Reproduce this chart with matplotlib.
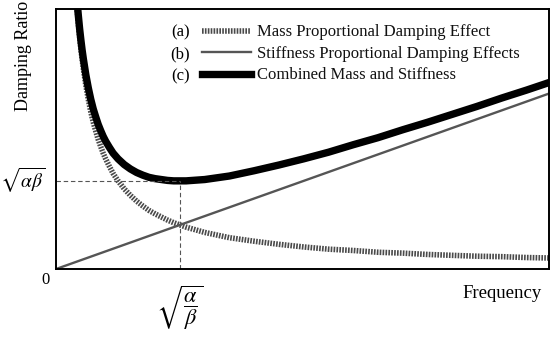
import matplotlib
matplotlib.use("Agg")
import matplotlib.pyplot as plt

plt.rcParams['font.family'] = ['Liberation Serif', 'DejaVu Serif']
plt.rcParams['mathtext.fontset'] = 'stix'

# frequency (crossover frequency = 1) and damping ratios
freq = [0.16, 0.17, 0.18, 0.19, 0.2, 0.21, 0.22, 0.24, 0.26, 0.28,
        0.30, 0.32, 0.34, 0.36, 0.38, 0.40, 0.43, 0.46, 0.5, 0.55,
        0.6, 0.65, 0.7, 0.75, 0.8, 0.85, 0.9, 0.95, 1.0, 1.05,
        1.1, 1.2, 1.3, 1.4, 1.5, 1.6, 1.8, 2.0, 2.2, 2.4,
        2.6, 2.8, 3.0, 3.2, 3.4, 3.6, 3.8, 3.98]
mass_damping = [6.25, 5.88, 5.56, 5.26, 5.0, 4.76, 4.55, 4.17, 3.85, 3.57,
                3.33, 3.13, 2.94, 2.78, 2.63, 2.5, 2.33, 2.17, 2.0, 1.82,
                1.67, 1.54, 1.43, 1.33, 1.25, 1.18, 1.11, 1.05, 1.0, 0.95,
                0.91, 0.83, 0.77, 0.71, 0.67, 0.63, 0.56, 0.5, 0.45, 0.42,
                0.38, 0.36, 0.33, 0.31, 0.29, 0.28, 0.26, 0.25]
combined_damping = [6.41, 6.05, 5.74, 5.45, 5.2, 4.97, 4.77, 4.41, 4.11, 3.85,
                    3.63, 3.45, 3.28, 3.14, 3.01, 2.9, 2.76, 2.63, 2.5, 2.37,
                    2.27, 2.19, 2.13, 2.08, 2.05, 2.03, 2.01, 2.0, 2.0, 2.0,
                    2.01, 2.03, 2.07, 2.11, 2.17, 2.23, 2.36, 2.5, 2.65, 2.82,
                    2.98, 3.16, 3.33, 3.51, 3.69, 3.88, 4.06, 4.23]
stiff_freq = [0.0, 3.98]
stiff_damping = [0.0, 3.98]

omega0 = 1.0          # sqrt(alpha/beta)
zeta_min = 2.0        # sqrt(alpha*beta)

labels = ["Mass Proportional Damping Effect",
          "Stiffness Proportional Damping Effects",
          "Combined Mass and Stiffness"]
tags = ["(a)", "(b)", "(c)"]

fig = plt.figure(figsize=(5.5, 3.39), dpi=100)
ax = fig.add_axes([0.102, 0.2065, 0.896, 0.767])

l1, = ax.plot(freq, mass_damping, color='#4a4a4a', lw=4.0,
              linestyle=(0, (0.3, 0.22)), solid_capstyle='butt')
l2, = ax.plot(stiff_freq, stiff_damping, color='#555555', lw=1.7)
l3, = ax.plot(freq, combined_damping, color='black', lw=5.3,
              solid_joinstyle='round')

ax.plot([0, omega0], [zeta_min, zeta_min], color='#555555', lw=0.8, ls=(0, (4, 2.5)))
ax.plot([omega0, omega0], [0, zeta_min], color='#555555', lw=0.8, ls=(0, (4, 2.5)))

ax.set_xlim(0, 3.98)
ax.set_ylim(0, 5.9)
ax.set_xticks([])
ax.set_yticks([])
for s in ax.spines.values():
    s.set_linewidth(1.4)
    s.set_color('black')

leg = ax.legend([l1, l2, l3], labels, loc='upper left',
                bbox_to_anchor=(0.282, 0.966), frameon=False, fontsize=12,
                handlelength=2.95, handletextpad=0.35, labelspacing=0.33,
                borderaxespad=0.0)
for t in leg.get_texts():
    t.set_color('#111111')
for i, tag in enumerate(tags):
    ax.text(0.252, 0.91 - i * 0.085, tag, transform=ax.transAxes, fontsize=12,
            ha='center', va='center')

fig.text(0.043, 0.835, "Damping Ratio", rotation=90, fontsize=13,
         ha='center', va='center')
fig.text(0.082, 0.175, "0", fontsize=12, ha='center', va='center')
fig.text(0.985, 0.133, "Frequency", fontsize=13.5, ha='right', va='center')
ax.text(-0.022, zeta_min, r'$\sqrt{\alpha\beta}$', transform=ax.get_yaxis_transform(),
        fontsize=14, ha='right', va='center')
ax.text(omega0, -0.055, r'$\sqrt{\dfrac{\alpha}{\beta}}$', transform=ax.get_xaxis_transform(),
        fontsize=16, ha='center', va='top')

fig.savefig("out.png", dpi=100)
